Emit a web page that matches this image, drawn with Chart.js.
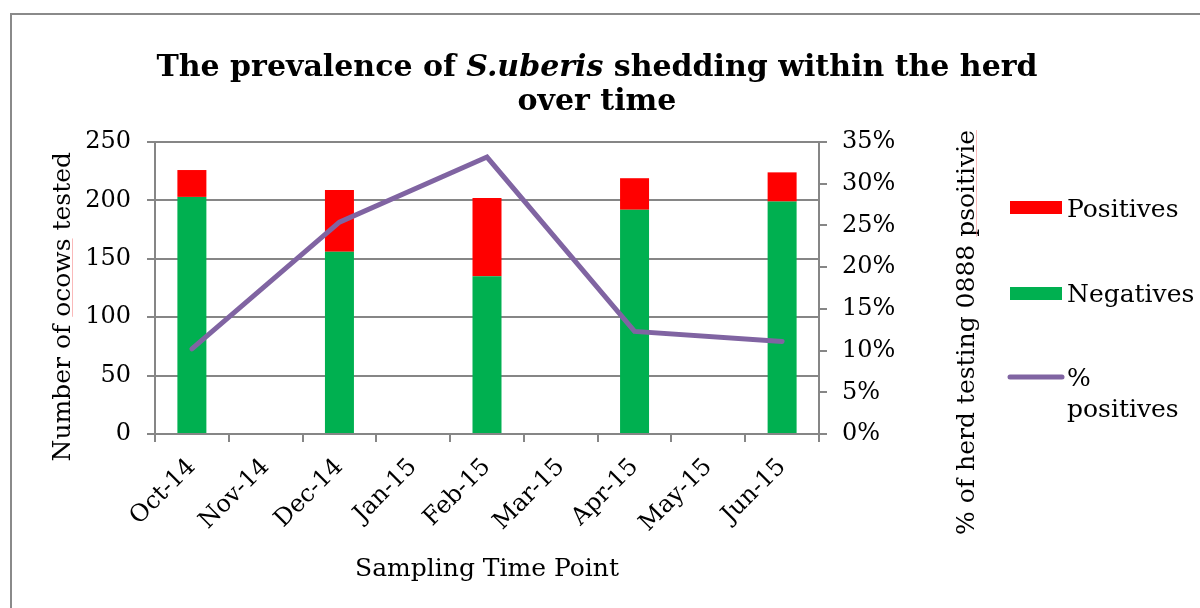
<!DOCTYPE html>
<html><head><meta charset="utf-8">
<script src="https://cdn.jsdelivr.net/npm/chart.js@4.4.1/dist/chart.umd.min.js"></script>
<style>html,body{margin:0;padding:0;background:#fff;} canvas{display:block;}</style>
</head><body>
<canvas id="c" width="1200" height="608"></canvas>
<script>
// ---- data ----
const categories = ['Oct-14','Nov-14','Dec-14','Jan-15','Feb-15','Mar-15','Apr-15','May-15','Jun-15'];
const negatives = [203, null, 156, null, 135, null, 192, null, 199];
const positives = [23, null, 53, null, 67, null, 27, null, 25];
const pctPositives = [10.2, null, 25.4, null, 33.2, null, 12.3, null, 11.1];
const leftAxisRange = [0, 250, 50];
const rightAxisRange = [0, 35, 5];

const SERIF = '"DejaVu Serif", "Liberation Serif", serif';
const GRAY = '#868686';

const decor = {
  id: 'decor',
  beforeDraw(chart) {
    const ctx = chart.ctx;
    ctx.save();
    ctx.fillStyle = '#fff';
    ctx.fillRect(0, 0, chart.width, chart.height);
    ctx.strokeStyle = '#8a8a8a';
    ctx.lineWidth = 2;
    ctx.beginPath();
    ctx.moveTo(11, chart.height + 2);
    ctx.lineTo(11, 14);
    ctx.lineTo(chart.width + 2, 14);
    ctx.stroke();
    ctx.restore();
  },
  afterDraw(chart) {
    const ctx = chart.ctx;
    ctx.save();
    ctx.fillStyle = '#000';
    // title with italic species name
    const lines = [
      [['The prevalence of ', 'bold'], ['S.uberis', 'italic bold'], [' shedding within the herd', 'bold']],
      [['over time', 'bold']]
    ];
    const baselines = [76, 110];
    const cx = 597;
    ctx.textBaseline = 'alphabetic';
    ctx.textAlign = 'left';
    lines.forEach((parts, i) => {
      let total = 0;
      parts.forEach(p => { ctx.font = p[1] + ' 30px ' + SERIF; total += ctx.measureText(p[0]).width; });
      let x = cx - total / 2;
      parts.forEach(p => {
        ctx.font = p[1] + ' 30px ' + SERIF;
        ctx.fillText(p[0], x, baselines[i]);
        x += ctx.measureText(p[0]).width;
      });
    });
    // axis titles (rotated, reading bottom to top)
    ctx.font = '25px ' + SERIF;
    const leftTitle = 'Number of ocows tested';
    const rightTitle = '% of herd testing 0888 psoitivie';
    ctx.save();
    ctx.translate(70, 152);
    ctx.rotate(-Math.PI / 2);
    ctx.textAlign = 'right';
    ctx.fillText(leftTitle, 0, 0);
    ctx.restore();
    ctx.save();
    ctx.translate(974, 130);
    ctx.rotate(-Math.PI / 2);
    ctx.textAlign = 'right';
    ctx.fillText(rightTitle, 0, 0);
    ctx.restore();
    // faint spell-check underlines as in the source document
    ctx.strokeStyle = 'rgba(245,130,130,0.55)';
    ctx.lineWidth = 1;
    const wTested = ctx.measureText(' tested').width;
    const wOcows = ctx.measureText('ocows').width;
    ctx.beginPath();
    ctx.moveTo(72.5, 152 + wTested);
    ctx.lineTo(72.5, 152 + wTested + wOcows);
    const wPs = ctx.measureText('psoitivie').width;
    ctx.moveTo(976.5, 130);
    ctx.lineTo(976.5, 130 + wPs);
    ctx.stroke();
    // legend
    const ds = chart.data.datasets;
    const pos = ds.find(d => d.label === 'Positives');
    const neg = ds.find(d => d.label === 'Negatives');
    const pct = ds.find(d => d.label === '% positives');
    ctx.textAlign = 'left';
    ctx.fillStyle = pos.backgroundColor;
    ctx.fillRect(1010, 201, 52, 13);
    ctx.fillStyle = neg.backgroundColor;
    ctx.fillRect(1010, 287, 52, 13);
    ctx.strokeStyle = pct.borderColor;
    ctx.lineWidth = 5;
    ctx.lineCap = 'round';
    ctx.beginPath();
    ctx.moveTo(1010, 377);
    ctx.lineTo(1062, 377);
    ctx.stroke();
    ctx.fillStyle = '#000';
    ctx.fillText('Positives', 1067, 217);
    ctx.fillText('Negatives', 1067, 302);
    ctx.fillText('%', 1067, 386);
    ctx.fillText('positives', 1067, 417);
    ctx.restore();
  }
};

Chart.defaults.font.family = SERIF;
Chart.defaults.font.size = 24;
Chart.defaults.color = '#000';

new Chart(document.getElementById('c'), {
  type: 'bar',
  data: {
    labels: categories,
    datasets: [
      { type: 'line', label: '% positives', data: pctPositives, yAxisID: 'y1', order: 0,
        borderColor: '#8064A2', backgroundColor: '#8064A2', borderWidth: 5, pointRadius: 0,
        spanGaps: true, borderCapStyle: 'round', tension: 0 },
      { label: 'Negatives', data: negatives, yAxisID: 'y', order: 1, stack: 's',
        backgroundColor: '#00B050', barPercentage: 0.393, categoryPercentage: 1 },
      { label: 'Positives', data: positives, yAxisID: 'y', order: 1, stack: 's',
        backgroundColor: '#FF0000', barPercentage: 0.393, categoryPercentage: 1 }
    ]
  },
  options: {
    responsive: false,
    animation: false,
    layout: { padding: { top: 142, left: 0, right: 0, bottom: 0 } },
    plugins: { legend: { display: false }, title: { display: false }, tooltip: { enabled: false } },
    scales: {
      x: {
        stacked: true,
        grid: { display: true, drawOnChartArea: false, drawTicks: true, tickLength: 8, color: GRAY, lineWidth: 2, offset: true },
        border: { color: GRAY, width: 2 },
        ticks: { minRotation: 45, maxRotation: 45, autoSkip: false, padding: 11, font: { size: 24 } },
        title: { display: true, text: 'Sampling Time Point', font: { size: 25 }, padding: { top: 0, bottom: 24 } },
        afterFit(s) { s.height = 174; }
      },
      y: {
        stacked: true, position: 'left',
        min: leftAxisRange[0], max: leftAxisRange[1],
        ticks: { stepSize: leftAxisRange[2], padding: 16, font: { size: 24 } },
        grid: { color: GRAY, lineWidth: 2, tickLength: 8 },
        border: { color: GRAY, width: 2 },
        afterFit(s) { s.width = 155; }
      },
      y1: {
        position: 'right',
        min: rightAxisRange[0], max: rightAxisRange[1],
        ticks: { stepSize: rightAxisRange[2], padding: 15, font: { size: 24 }, callback: v => v + '%' },
        grid: { drawOnChartArea: false, color: GRAY, lineWidth: 2, tickLength: 8 },
        border: { color: GRAY, width: 2 },
        afterFit(s) { s.width = 381; }
      }
    }
  },
  plugins: [decor]
});
</script>
</body></html>
